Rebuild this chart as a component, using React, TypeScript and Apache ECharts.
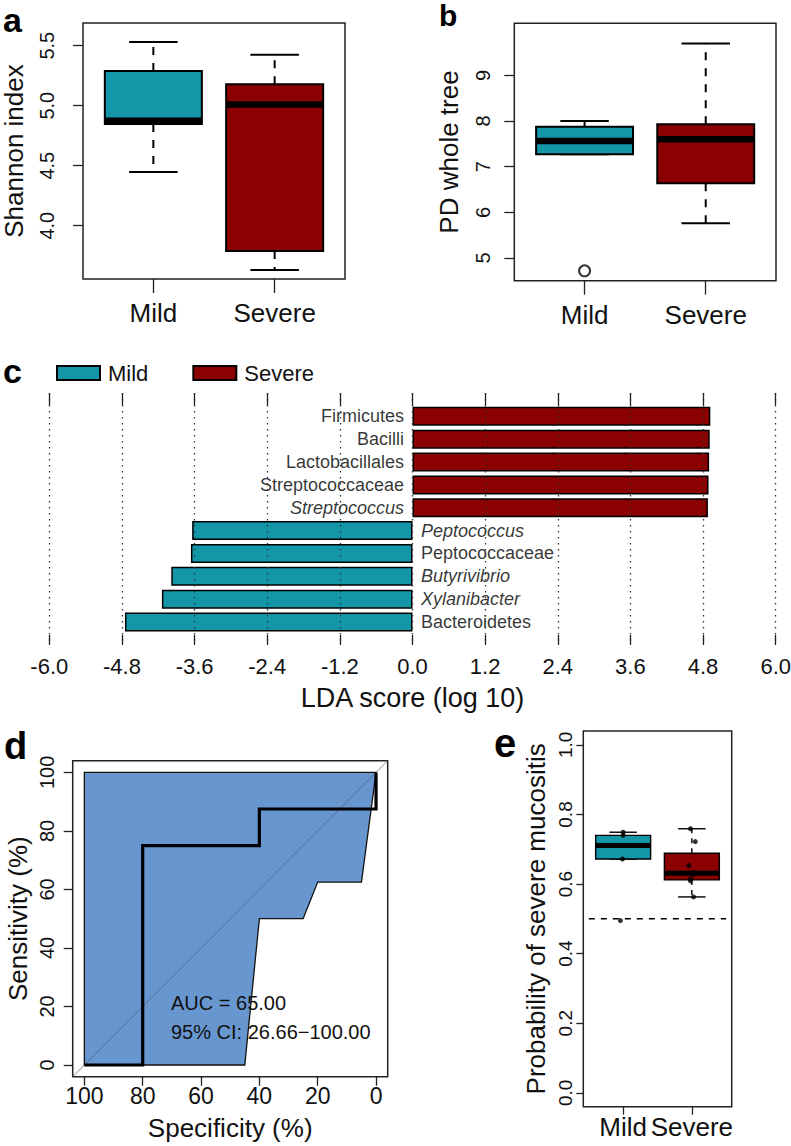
import React, { useEffect, useRef } from 'react';
import * as echarts from 'echarts';

const FONT = '"Liberation Sans", Arial, Helvetica, sans-serif';
const INK = '#111';
const TEAL = '#1296a8';
const DARKRED = '#8b0000';
const CI_BLUE = '#6897cf';

// ---------- shared ----------
const groups = ['Mild', 'Severe'];
const groupColors = [TEAL, DARKRED];

// ---------- panel a: Shannon index, [min, Q1, median, Q3, max] ----------
const shannonStats = [
  [4.447, 4.847, 4.875, 5.289, 5.53],
  [3.63, 3.789, 5.01, 5.178, 5.425],
];
const shannonTicks = [4.0, 4.5, 5.0, 5.5];

// ---------- panel b: PD whole tree ----------
const pdStats = [
  [7.27, 7.27, 7.56, 7.875, 8.0],
  [5.76, 6.636, 7.6, 7.93, 9.7],
];
const pdOutlierGroup = [1];
const pdOutlierValue = [4.72];
const pdTicks = [5, 6, 7, 8, 9];

// ---------- panel c: LEfSe LDA scores ----------
const ldaTaxa = [
  'Firmicutes', 'Bacilli', 'Lactobacillales', 'Streptococcaceae', 'Streptococcus',
  'Peptococcus', 'Peptococcaceae', 'Butyrivibrio', 'Xylanibacter', 'Bacteroidetes',
];
const ldaRank = ['phylum', 'class', 'order', 'family', 'genus', 'genus', 'family', 'genus', 'genus', 'phylum'];
const ldaGroup = ['Severe', 'Severe', 'Severe', 'Severe', 'Severe', 'Mild', 'Mild', 'Mild', 'Mild', 'Mild'];
const ldaScore = [4.92, 4.91, 4.9, 4.89, 4.88, -3.64, -3.66, -3.985, -4.14, -4.75];
const ldaMin = -6;
const ldaMax = 6;
const ldaStep = 1.2;

// ---------- panel d: ROC ----------
const rocSpecificity = [100, 80, 80, 40, 40, 0, 0];
const rocSensitivity = [0, 0, 75, 75, 87.5, 87.5, 100];
const ciSpecificity = [100, 100, 0, 5, 20, 25, 40, 45];
const ciSensitivity = [0, 100, 100, 62.5, 62.5, 50, 50, 0];
const rocTicks = [0, 20, 40, 60, 80, 100];
const chanceSpecificity = [104, -4];
const chanceSensitivity = [-4, 104];
const aucText = 'AUC = 65.00';
const ciText = '95% CI: 26.66\u2212100.00';

// ---------- panel e: probability of severe mucositis ----------
const probStats = [
  [0.672, 0.672, 0.711, 0.74, 0.749],
  [0.563, 0.612, 0.631, 0.6886, 0.759],
];
const mildProb = [0.749, 0.74, 0.711, 0.672, 0.495];
const mildJitter = [0, 0, 0, -0.01, -0.04];
const severeProb = [0.759, 0.722, 0.653, 0.634, 0.628, 0.615, 0.609, 0.563];
const severeJitter = [-0.02, 0.05, -0.045, 0.025, 0.02, -0.02, -0.02, 0.025];
const probTicks = [0, 0.2, 0.4, 0.6, 0.8, 1.0];
const probThreshold = 0.5;

function boxRenderer(lw: number, medW: number, dash: number[]) {
  return (params: any, api: any) => {
    const x = api.value(0);
    const mn = api.value(1);
    const q1 = api.value(2);
    const md = api.value(3);
    const q3 = api.value(4);
    const mx = api.value(5);
    const half = api.size([0.8, 0])[0] / 2;
    const cx = api.coord([x, md])[0];
    const y = (v: number) => api.coord([x, v])[1];
    const cap = half * 0.5;
    const color = groupColors[params.dataIndex];
    const stroke = { stroke: '#000', lineWidth: lw };
    return {
      type: 'group',
      children: [
        { type: 'line', shape: { x1: cx, y1: y(q3), x2: cx, y2: y(mx) }, style: { ...stroke, lineDash: dash } },
        { type: 'line', shape: { x1: cx, y1: y(q1), x2: cx, y2: y(mn) }, style: { ...stroke, lineDash: dash } },
        { type: 'line', shape: { x1: cx - cap, y1: y(mx), x2: cx + cap, y2: y(mx) }, style: stroke },
        { type: 'line', shape: { x1: cx - cap, y1: y(mn), x2: cx + cap, y2: y(mn) }, style: stroke },
        {
          type: 'rect',
          shape: { x: cx - half, y: y(q3), width: 2 * half, height: y(q1) - y(q3) },
          style: { fill: color, ...stroke },
        },
        { type: 'line', shape: { x1: cx - half, y1: y(md), x2: cx + half, y2: y(md) }, style: { stroke: '#000', lineWidth: medW } },
      ],
    };
  };
}

function gridBox(left: number, top: number, width: number, height: number, show = true) {
  return {
    left, top, width, height,
    show,
    borderColor: '#222',
    borderWidth: show ? 1.5 : 0,
    backgroundColor: 'transparent',
    containLabel: false,
    outerBoundsMode: 'none',
  };
}

const hiddenLine = { show: false, onZero: false };

function groupXAxis(gridIndex: number, tickLen: number, margin: number, fontSize: number) {
  return {
    type: 'value', gridIndex, min: 0.42, max: 2.58, position: 'bottom',
    axisLine: hiddenLine,
    splitLine: { show: false },
    axisTick: { show: true, customValues: [1, 2], length: tickLen, lineStyle: { color: '#222', width: 1.3 } },
    axisLabel: {
      show: true, customValues: [1, 2], margin,
      formatter: (v: number) => groups[Math.round(v) - 1] ?? '',
      fontFamily: FONT, fontSize, color: INK,
    },
  };
}

function tickedYAxis(gridIndex: number, min: number, max: number, ticks: number[], opts: any) {
  return {
    type: 'value', gridIndex, min, max, position: 'left',
    axisLine: hiddenLine,
    splitLine: { show: false },
    axisTick: { show: true, customValues: ticks, length: opts.tickLen, lineStyle: { color: '#222', width: 1.3 } },
    axisLabel: {
      show: true, customValues: ticks, rotate: 90, margin: opts.margin,
      formatter: opts.formatter,
      fontFamily: FONT, fontSize: opts.fontSize, color: INK,
    },
    name: opts.name,
    nameLocation: 'middle',
    nameGap: opts.nameGap,
    nameRotate: 90,
    nameTextStyle: { fontFamily: FONT, fontSize: 26, color: INK },
  };
}

function buildOption() {
  const severeBars = ldaScore.map((v, i) => (ldaGroup[i] === 'Severe' ? v : '-'));
  const mildBars = ldaScore.map((v, i) => (ldaGroup[i] === 'Mild' ? v : '-'));
  const taxaLabels = ldaTaxa.map((t, i) => ({
    value: [0, t],
    label: {
      position: ldaScore[i] > 0 ? 'left' : 'right',
      fontStyle: ldaRank[i] === 'genus' ? 'italic' : 'normal',
    },
  }));
  const fmtLda = (v: number) => (Math.abs(v) < 1e-9 ? 0 : v).toFixed(1);

  const panelLabel = (t: string, x: number, y: number, size: number) => ({
    type: 'text', x, y,
    style: { text: t, fontFamily: FONT, fontWeight: 'bold', fontSize: size, fill: '#000', verticalAlign: 'top', align: 'left' },
  });

  return {
    animation: false,
    backgroundColor: '#fff',
    textStyle: { fontFamily: FONT },
    grid: [
      gridBox(83, 23, 262, 256),
      gridBox(514.3, 23.3, 261.7, 257.4),
      gridBox(49.3, 404.9, 726.4, 228.5, false),
      gridBox(49.3, 393, 726.4, 252, false),
      gridBox(72.7, 760.7, 315, 316),
      gridBox(583.3, 731, 148.4, 375.7),
    ],
    legend: {
      show: true,
      data: ['Mild', 'Severe'],
      left: 56, top: 362,
      padding: 0,
      itemWidth: 43, itemHeight: 14, itemGap: 44,
      icon: 'rect',
      selectedMode: false,
      textStyle: { fontFamily: FONT, fontSize: 22, color: INK, padding: [0, 0, 0, 3] },
    },
    xAxis: [
      groupXAxis(0, 14, 21, 26),
      groupXAxis(1, 14, 21, 26),
      { type: 'value', gridIndex: 2, min: ldaMin, max: ldaMax, show: false, axisLine: hiddenLine },
      {
        type: 'value', gridIndex: 3, min: ldaMin, max: ldaMax, interval: ldaStep, position: 'bottom', z: 10,
        axisLine: hiddenLine,
        axisTick: { show: true, inside: true, length: 10, lineStyle: { color: '#222', width: 1.3 } },
        axisLabel: { show: true, margin: 10, formatter: fmtLda, fontFamily: FONT, fontSize: 22, color: INK },
        splitLine: { show: true, lineStyle: { color: '#333', width: 1.3, type: [1.5, 4.5] } },
        name: 'LDA score (log 10)', nameLocation: 'middle', nameGap: 39,
        nameTextStyle: { fontFamily: FONT, fontSize: 27, color: INK },
      },
      {
        type: 'value', gridIndex: 3, min: ldaMin, max: ldaMax, interval: ldaStep, position: 'top', z: 10,
        axisLine: hiddenLine,
        axisTick: { show: true, inside: true, length: 12, lineStyle: { color: '#222', width: 1.3 } },
        axisLabel: { show: false },
        splitLine: { show: false },
      },
      {
        type: 'value', gridIndex: 4, min: -4, max: 104, inverse: true, position: 'bottom',
        axisLine: hiddenLine,
        splitLine: { show: false },
        axisTick: { show: true, customValues: rocTicks, length: 9, lineStyle: { color: '#222', width: 1.3 } },
        axisLabel: { show: true, customValues: rocTicks, margin: 8, fontFamily: FONT, fontSize: 23, color: INK },
        name: 'Specificity (%)', nameLocation: 'middle', nameGap: 38,
        nameTextStyle: { fontFamily: FONT, fontSize: 26, color: INK },
      },
      groupXAxis(5, 8, 7, 26),
    ],
    yAxis: [
      tickedYAxis(0, 3.556, 5.689, shannonTicks, {
        tickLen: 10, margin: 26, fontSize: 20, formatter: (v: number) => v.toFixed(1), name: 'Shannon index', nameGap: 56,
      }),
      tickedYAxis(1, 4.503, 10.14, pdTicks, {
        tickLen: 10, margin: 21, fontSize: 20, formatter: (v: number) => String(v), name: 'PD whole tree', nameGap: 52,
      }),
      { type: 'category', gridIndex: 2, data: ldaTaxa, inverse: true, show: false, axisLine: hiddenLine },
      { type: 'value', gridIndex: 3, min: 0, max: 1, show: false, axisLine: hiddenLine },
      tickedYAxis(4, -4, 104, rocTicks, {
        tickLen: 9, margin: 16, fontSize: 20, formatter: (v: number) => String(v), name: 'Sensitivity (%)', nameGap: 42,
      }),
      tickedYAxis(5, -0.04, 1.04, probTicks, {
        tickLen: 7, margin: 8, fontSize: 19, formatter: (v: number) => v.toFixed(1), name: 'Probability of severe mucositis', nameGap: 34,
      }),
    ],
    series: [
      // panel a
      {
        type: 'custom', xAxisIndex: 0, yAxisIndex: 0,
        data: shannonStats.map((s, i) => [i + 1, ...s]),
        renderItem: boxRenderer(2, 6.5, [8, 8]),
      },
      // panel b
      {
        type: 'custom', xAxisIndex: 1, yAxisIndex: 1,
        data: pdStats.map((s, i) => [i + 1, ...s]),
        renderItem: boxRenderer(2, 6.5, [8, 8]),
      },
      {
        type: 'scatter', xAxisIndex: 1, yAxisIndex: 1,
        data: pdOutlierGroup.map((g, i) => [g, pdOutlierValue[i]]),
        symbol: 'circle', symbolSize: 11,
        itemStyle: { color: 'rgba(0,0,0,0)', borderColor: '#000', borderWidth: 2 },
      },
      // panel c
      {
        name: 'Severe', type: 'bar', xAxisIndex: 2, yAxisIndex: 2, stack: 'lda',
        data: severeBars, barWidth: 19,
        itemStyle: { color: DARKRED, borderColor: '#000', borderWidth: 1.5 },
      },
      {
        name: 'Mild', type: 'bar', xAxisIndex: 2, yAxisIndex: 2, stack: 'lda',
        data: mildBars, barWidth: 19,
        itemStyle: { color: TEAL, borderColor: '#000', borderWidth: 1.5 },
      },
      {
        type: 'scatter', xAxisIndex: 2, yAxisIndex: 2,
        data: taxaLabels, symbolSize: 1,
        itemStyle: { color: 'rgba(0,0,0,0)' },
        label: {
          show: true, distance: 8,
          formatter: (p: any) => ldaTaxa[p.dataIndex],
          fontFamily: FONT, fontSize: 18, color: '#000',
        },
      },
      // panel d
      {
        type: 'custom', xAxisIndex: 5, yAxisIndex: 4,
        data: [[50, 50]],
        renderItem: (params: any, api: any) => {
          const pts = ciSpecificity.map((s, i) => api.coord([s, ciSensitivity[i]]));
          return { type: 'polygon', shape: { points: pts }, style: { fill: CI_BLUE, stroke: '#111', lineWidth: 1.3 } };
        },
        z: 1,
      },
      {
        type: 'line', xAxisIndex: 5, yAxisIndex: 4,
        data: chanceSpecificity.map((s, i) => [s, chanceSensitivity[i]]),
        symbol: 'none', lineStyle: { color: 'rgba(70,80,100,0.38)', width: 1.3 }, z: 3,
      },
      {
        type: 'line', xAxisIndex: 5, yAxisIndex: 4,
        data: rocSpecificity.map((s, i) => [s, rocSensitivity[i]]),
        symbol: 'none', lineStyle: { color: '#000', width: 3.2, join: 'miter' }, z: 4,
      },
      // panel e
      {
        type: 'line', xAxisIndex: 6, yAxisIndex: 5,
        data: [[0.5, probThreshold], [2.5, probThreshold]],
        symbol: 'none', lineStyle: { color: '#000', width: 1.5, type: [6, 6] },
      },
      {
        type: 'custom', xAxisIndex: 6, yAxisIndex: 5,
        data: probStats.map((s, i) => [i + 1, ...s]),
        renderItem: boxRenderer(1.4, 5, [5, 5]),
      },
      {
        type: 'scatter', xAxisIndex: 6, yAxisIndex: 5,
        data: [
          ...mildProb.map((v, i) => [1 + mildJitter[i], v]),
          ...severeProb.map((v, i) => [2 + severeJitter[i], v]),
        ],
        symbol: 'circle', symbolSize: 5,
        itemStyle: { color: '#000' }, z: 5,
      },
    ],
    graphic: [
      panelLabel('a', 3, 3, 34),
      panelLabel('b', 439, 0, 30),
      panelLabel('c', 3, 354, 34),
      panelLabel('d', 4, 727, 38),
      panelLabel('e', 494, 723, 40),
      {
        type: 'text', x: 171, y: 1003.3,
        style: { text: aucText, fontFamily: FONT, fontSize: 20, fill: INK, verticalAlign: 'middle', align: 'left' },
        z: 10,
      },
      {
        type: 'text', x: 171, y: 1032.3,
        style: { text: ciText, fontFamily: FONT, fontSize: 20, fill: INK, verticalAlign: 'middle', align: 'left' },
        z: 10,
      },
    ],
  };
}

export default function App() {
  const ref = useRef<HTMLDivElement>(null);
  useEffect(() => {
    if (!ref.current) return;
    const chart = echarts.init(ref.current, undefined, { renderer: 'svg' });
    chart.setOption(buildOption() as any);
    return () => chart.dispose();
  }, []);
  return (
    <div
      ref={ref}
      style={{ position: 'absolute', left: 0, top: 0, width: 791, height: 1146, background: '#fff' }}
    />
  );
}
